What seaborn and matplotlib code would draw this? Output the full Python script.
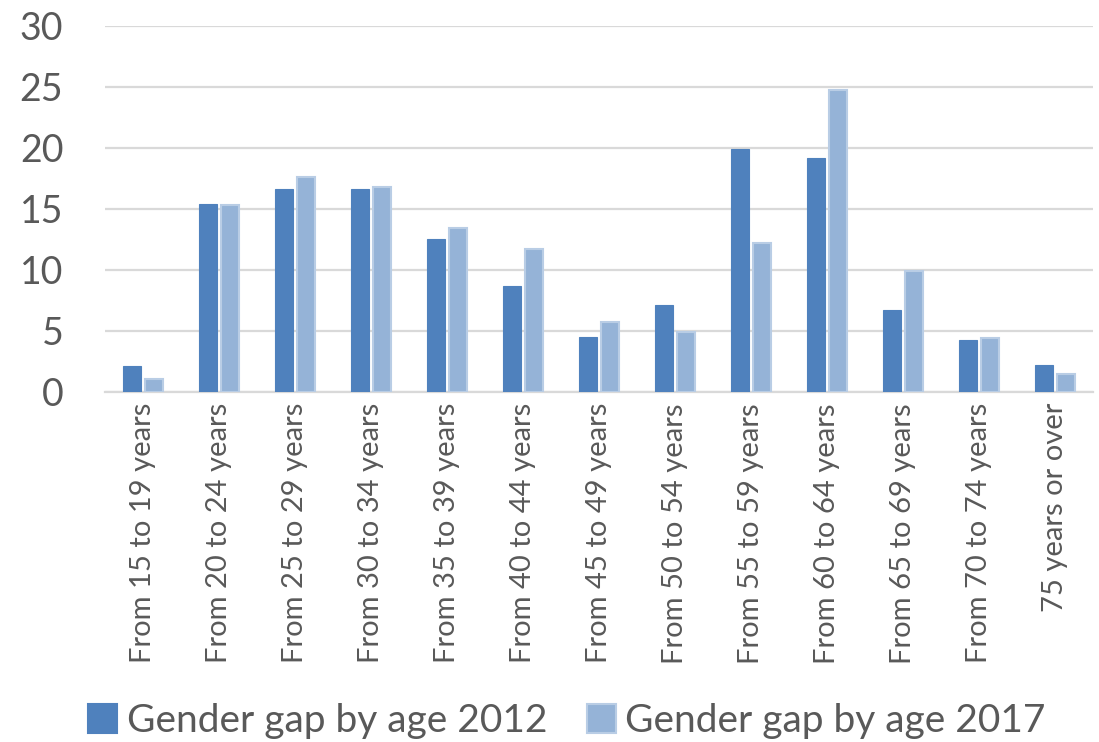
import matplotlib
matplotlib.use("Agg")
import matplotlib.pyplot as plt
import seaborn as sns
import pandas as pd
from matplotlib.patches import Patch

categories = [
    "From 15 to 19 years", "From 20 to 24 years", "From 25 to 29 years",
    "From 30 to 34 years", "From 35 to 39 years", "From 40 to 44 years",
    "From 45 to 49 years", "From 50 to 54 years", "From 55 to 59 years",
    "From 60 to 64 years", "From 65 to 69 years", "From 70 to 74 years",
    "75 years or over",
]
gap_2012 = [2.1, 15.4, 16.6, 16.6, 12.5, 8.7, 4.5, 7.1, 19.9, 19.2, 6.7, 4.3, 2.2]
gap_2017 = [1.1, 15.3, 17.6, 16.8, 13.4, 11.7, 5.7, 4.9, 12.2, 24.7, 9.9, 4.4, 1.5]
series_names = ["Gender gap by age 2012", "Gender gap by age 2017"]
y_ticks = [0, 5, 10, 15, 20, 25, 30]

df = pd.DataFrame({
    "age": categories * 2,
    "gap": gap_2012 + gap_2017,
    "series": [series_names[0]] * len(categories) + [series_names[1]] * len(categories),
})

sns.set_theme(style="white")
plt.rcParams["font.family"] = ["Lato", "DejaVu Sans"]

colors = ["#4F81BD", "#95B3D7"]
edges = ["#4F81BD", "#B9CDE5"]
text_color = "#595959"

fig = plt.figure(figsize=(10.99, 7.42), dpi=100)
ax = fig.add_axes([0.0955, 0.4717, 0.899, 0.4936])

sns.barplot(data=df, x="age", y="gap", hue="series", order=categories,
            hue_order=series_names, palette=colors, width=0.58, gap=0.2,
            saturation=1, legend=False, ax=ax)

# light outline on the 2017 bars
n = len(categories)
for i, patch in enumerate(ax.patches):
    s = i // n
    patch.set_edgecolor(edges[s])
    patch.set_linewidth(1.5 if s == 1 else 0.8)
    patch.set_zorder(3)

ax.set_ylim(0, 30)
ax.set_xlim(-0.5, n - 0.5)
ax.set_yticks(y_ticks)
ax.yaxis.grid(True, color="#D9D9D9", linewidth=1.6, zorder=0)
ax.set_axisbelow(True)
for side in ["left", "right", "top"]:
    ax.spines[side].set_visible(False)
ax.spines["bottom"].set_color("#D9D9D9")
ax.spines["bottom"].set_linewidth(1.6)
ax.set_xlabel("")
ax.set_ylabel("")
ax.tick_params(axis="y", labelsize=27, colors=text_color, length=0, pad=30)
ax.tick_params(axis="x", labelsize=21, colors=text_color, length=0, pad=8, rotation=90)

handles = [Patch(facecolor=colors[k], edgecolor=edges[k], linewidth=1.5) for k in range(2)]
fig.legend(handles, series_names, loc="center", bbox_to_anchor=(0.516, 0.028),
           ncol=2, frameon=False, fontsize=28, labelcolor=text_color,
           handlelength=0.75, handleheight=0.75, handletextpad=0.25, columnspacing=1.0)

fig.savefig("out.png", dpi=100)
